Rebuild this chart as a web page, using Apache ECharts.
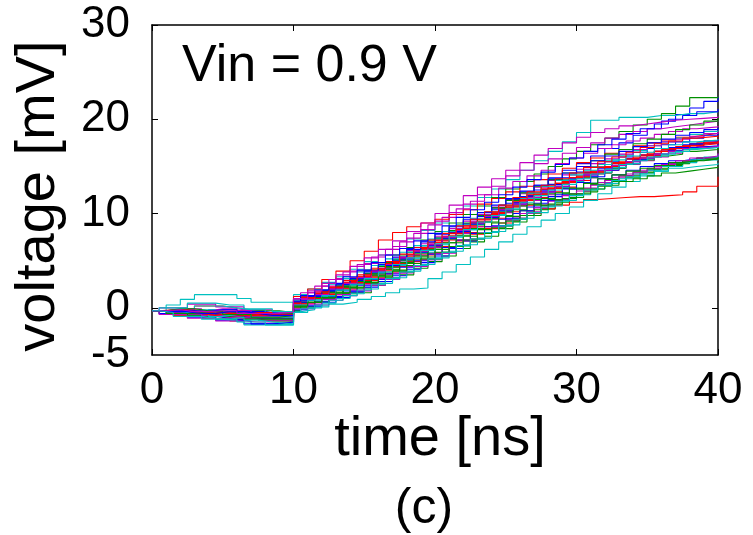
<!DOCTYPE html>
<html>
<head>
<meta charset="utf-8">
<script src="https://cdn.jsdelivr.net/npm/echarts@6/dist/echarts.min.js"></script>
<style>
html,body{margin:0;padding:0;background:#fff;}
#c{width:753px;height:535px;}
</style>
</head>
<body>
<div id="c"></div>
<script>
// time grids [ns]: even-numbered traces use timesA, odd-numbered traces use timesB
const timesA = [0,1,2,3,4,5,6,7,8,9,10,11,12,13,14,15,16,17,18,19,20,21,22,23,24,25,26,27,28,29,30,31,32,33,34,35,36,37,38,39,40];
const timesB = [0,0.5,1.5,2.5,3.5,4.5,5.5,6.5,7.5,8.5,10,10.5,11.5,12.5,13.5,14.5,15.5,16.5,17.5,18.5,19.5,20.5,21.5,22.5,23.5,24.5,25.5,26.5,27.5,28.5,29.5,30.5,31.5,32.5,33.5,34.5,35.5,36.5,37.5,38.5,40];

// voltage traces [mV], one value per time of the grid
const v01 = [-0.3,-0.3,-0.1,0.2,0.2,0.0,-0.3,-0.3,-0.6,-0.6, 0.8,1.2,1.2,2.0,2.5,2.9,3.6,4.4,4.9,5.6,6.5,7.2,8.0,8.6,9.5,10.2,10.9,11.7,12.3,12.8,13.5,14.2,14.6,15.2,15.7,16.0,16.6,17.0,17.3,17.7,18.0];
const v02 = [-0.3,-0.6,-0.6,-0.9,-0.9,-1.2,-1.2,-1.0,-1.3,-1.3, 0.0,0.0,0.6,1.1,1.6,1.6,2.4,3.0,3.5,4.2,4.9,5.5,6.3,7.0,7.6,8.4,9.1,9.8,10.5,11.2,11.7,12.3,12.9,13.4,13.8,14.3,14.7,15.1,15.5,15.9,16.2];
const v03 = [-0.3,-0.3,-0.5,-0.5,-0.2,-0.2,-0.5,-0.8,-0.8,-0.8, 0.9,1.3,1.9,2.3,2.9,3.6,4.2,5.0,5.6,6.3,7.2,8.0,8.9,9.7,10.6,11.5,12.3,13.0,13.8,14.6,15.3,16.1,16.9,17.5,18.3,19.0,19.8,20.5,21.2,21.9,22.4];
const v04 = [-0.3,0.0,0.0,0.4,0.4,0.1,0.1,-0.2,-0.2,-0.5, 0.7,1.0,1.5,2.1,2.1,3.0,3.6,4.3,5.0,5.6,6.4,7.3,7.9,8.6,9.4,10.1,10.8,11.4,12.0,12.7,13.3,13.8,14.3,14.8,15.2,15.6,16.0,16.4,16.8,17.1,17.3];
const v05 = [-0.3,0.3,0.9,1.4,1.4,1.4,1.0,0.6,0.6,0.6, 1.4,2.0,2.7,3.3,4.1,4.9,5.6,6.5,7.3,8.2,9.0,9.9,10.8,11.7,12.6,13.6,14.6,15.6,16.6,17.6,18.6,19.9,19.9,20.2,20.2,20.4,20.4,20.6,20.6,20.8,20.8];
const v06 = [-0.3,-0.5,-0.8,-0.8,-1.1,-1.1,-1.4,-1.1,-0.9,-0.9, 0.1,0.5,0.9,1.4,2.0,2.6,3.2,3.8,4.5,5.1,5.8,6.4,7.1,7.8,8.4,9.0,9.5,10.0,10.5,10.9,11.2,11.5,11.6,11.7,11.8,11.8,11.9,12.0,12.3,12.9,13.9];
const v07 = [-0.3,-0.2,-0.2,-0.5,-0.4,-0.4,-0.3,-0.3,-0.3,-0.5, 0.6,1.2,1.8,2.5,3.2,4.0,4.8,5.6,6.4,7.2,8.1,9.0,9.9,10.8,11.7,12.6,13.4,14.2,15.0,15.8,16.6,17.3,18.0,18.7,19.4,20.0,20.6,21.4,22.3,22.3,22.4];
const v08 = [-0.3,-0.6,-0.6,-1.0,-1.0,-1.3,-1.3,-1.7,-1.7,-1.5, -0.3,0.2,0.7,1.2,1.8,2.4,3.0,3.6,4.3,5.0,5.7,6.4,7.2,7.9,8.6,9.4,10.0,10.7,11.4,12.0,12.6,13.2,13.7,14.1,14.6,15.0,15.3,15.6,15.8,16.0,16.2];
const v09 = [-0.3,-0.4,-0.4,-0.3,-0.1,-0.1,-0.3,-0.5,-0.5,-0.4, 0.9,1.6,2.3,3.1,3.9,4.7,5.6,6.5,7.4,8.3,9.2,10.1,11.0,12.0,12.9,14.0,14.6,15.3,15.8,16.4,17.0,17.5,18.0,18.4,18.7,19.0,19.2,19.4,19.6,19.8,19.9];
const v10 = [-0.3,-0.5,-0.7,-0.9,-1.1,-1.3,-1.5,-1.8,-1.8,-1.8, -0.4,-0.2,0.1,0.4,0.6,0.9,1.2,1.6,2.0,2.1,3.1,3.8,4.6,5.4,6.2,7.0,7.8,8.6,9.3,10.0,10.7,11.4,12.1,12.8,13.4,14.0,14.5,15.0,15.4,15.7,16.0];
const v11 = [-0.3,-0.2,-0.2,-0.4,-0.4,-0.6,-0.6,-0.8,-0.8,-0.6, 1.2,2.0,3.0,3.9,5.0,6.0,7.2,8.0,8.6,9.0,9.4,9.9,10.4,11.0,11.6,12.3,12.9,13.6,14.2,14.8,15.4,15.9,16.4,16.8,17.2,17.5,17.8,18.1,18.3,18.5,18.6];
const v12 = [-0.3,-0.5,-0.5,-0.8,-0.6,-0.6,-0.9,-0.9,-0.7,-0.9, 0.3,0.8,1.2,1.8,2.4,3.0,3.6,4.3,5.0,5.8,6.6,7.3,8.1,8.8,9.5,10.2,10.8,11.5,12.1,12.7,13.3,13.8,14.3,14.8,15.3,15.7,16.1,16.3,16.6,16.8,17.0];
const v13 = [-0.3,-0.2,-0.3,-0.5,-0.7,-0.7,-0.4,-0.4,-0.6,-0.6, 0.6,1.1,1.7,2.3,3.0,3.7,4.4,5.1,5.9,6.6,7.4,8.2,8.9,9.7,10.4,11.1,11.8,12.5,13.1,13.8,14.4,14.9,15.5,16.0,16.5,16.9,17.3,17.6,18.0,18.3,18.6];
const v14 = [-0.3,-0.7,-0.7,-1.1,-1.1,-1.4,-1.4,-1.5,-1.5,-1.5, -0.5,-0.1,0.3,0.8,1.3,1.8,2.4,3.0,3.7,4.4,5.1,5.8,6.6,7.3,8.0,8.7,9.5,10.2,10.9,11.5,12.1,12.7,13.3,13.8,14.2,14.6,15.0,15.3,15.6,15.9,16.1];
const v15 = [-0.3,-0.1,-0.1,0.2,0.2,0.0,-0.2,-0.2,-0.6,-0.6, 0.4,0.9,1.3,1.9,2.5,3.1,3.8,4.5,5.2,5.9,6.7,7.5,8.3,9.1,9.9,10.7,11.4,12.2,12.9,13.6,14.3,15.0,15.6,16.2,16.7,17.2,17.6,18.0,18.4,18.7,19.0];
const v16 = [-0.3,-0.4,-0.6,-0.6,-0.4,-0.4,-0.8,-0.8,-1.1,-1.1, 0.3,0.9,1.5,2.1,2.7,3.3,4.0,4.7,5.4,6.1,6.9,7.6,8.4,9.1,9.9,10.6,11.2,11.9,12.6,13.2,13.8,14.4,14.9,15.4,15.8,16.2,16.6,16.9,17.2,17.5,17.7];
const v17 = [-0.3,-0.4,-0.4,-0.7,-0.7,-1.0,-1.0,-0.8,-0.8,-1.0, 0.2,0.6,1.0,1.5,2.1,2.7,3.4,4.0,4.7,5.4,6.2,6.9,7.6,8.3,9.0,9.7,10.3,10.9,11.5,12.1,12.6,13.1,13.6,14.0,14.4,14.7,15.0,15.3,15.6,15.8,15.9];
const v18 = [-0.3,-0.5,-0.5,-0.7,-0.7,-0.5,-0.5,-0.9,-0.9,-0.7, 0.4,1.0,1.4,2.0,2.6,3.2,3.9,4.6,5.3,6.0,6.7,7.5,8.2,9.0,9.7,10.5,11.2,11.9,12.5,13.1,13.7,14.3,14.8,15.3,15.8,16.2,16.6,17.0,17.3,17.5,17.7];
const v19 = [-0.3,-0.2,-0.2,-0.5,-0.5,-0.3,-0.3,-0.6,-0.6,-0.5, 0.7,1.3,1.9,2.5,3.2,3.8,4.6,5.3,6.1,6.8,7.6,8.4,9.2,9.9,10.7,11.4,12.1,12.8,13.5,14.1,14.7,15.3,15.8,16.3,16.8,17.2,17.6,17.9,18.2,18.5,18.7];
const v20 = [-0.3,-0.4,-0.4,-0.2,-0.2,-0.6,-0.6,-0.9,-0.9,-1.0, 0.2,0.8,1.2,1.9,2.4,3.1,3.7,4.5,5.1,5.9,6.6,7.4,8.1,8.9,9.6,10.3,11.0,11.6,12.3,12.8,13.4,13.9,14.4,14.9,15.3,15.8,16.1,16.5,16.8,17.0,17.2];
const v21 = [-0.3,-0.5,-0.5,-0.7,-0.5,-0.5,-0.8,-0.8,-1.0,-1.0, 0.5,1.1,1.6,2.2,2.8,3.4,4.1,4.8,5.6,6.3,7.1,7.9,8.7,9.4,10.1,10.8,11.5,12.1,12.7,13.4,14.0,14.5,15.0,15.5,16.0,16.4,16.8,17.1,17.4,17.6,17.8];
const v22 = [-0.3,-0.3,-0.6,-0.6,-0.9,-0.9,-1.2,-1.2,-1.4,-1.4, -0.3,0.1,0.6,1.0,1.5,2.1,2.6,3.2,3.8,4.5,5.2,5.9,6.6,7.3,8.0,8.7,9.4,10.1,10.8,11.4,12.0,12.5,13.0,13.5,14.0,14.4,14.8,15.2,15.6,15.9,16.1];
const v23 = [-0.3,-0.4,-0.6,-0.8,-1.0,-1.2,-1.4,-1.7,-1.7,-1.5, -0.2,0.2,0.6,1.1,1.7,2.2,2.8,3.4,4.1,4.8,5.5,6.3,7.1,7.9,8.7,9.5,10.3,11.1,11.8,12.6,13.3,13.9,14.6,15.2,15.7,16.2,16.6,17.0,17.4,17.7,17.9];
const v24 = [-0.3,-0.3,-0.1,-0.1,-0.4,-0.4,-0.5,-0.5,-0.7,-0.7, 0.9,1.6,2.3,3.0,3.8,4.6,5.4,6.2,7.0,7.9,8.8,9.6,10.5,11.3,12.0,12.7,13.4,14.0,14.6,15.3,15.9,16.4,16.9,17.3,17.7,18.0,18.4,18.7,19.0,19.2,19.3];
const v25 = [-0.3,-0.6,-0.8,-1.0,-1.2,-1.2,-1.5,-1.5,-1.8,-1.8, -0.5,0.0,0.5,1.0,1.5,2.0,2.6,3.2,3.9,4.6,5.3,6.0,6.7,7.4,8.1,8.8,9.5,10.1,10.8,11.4,12.0,12.6,13.2,13.7,14.2,14.6,15.0,15.4,15.7,16.0,16.3];
const v26 = [-0.3,-0.2,-0.2,-0.4,-0.4,-0.6,-0.6,-0.5,-0.5,-0.8, 0.5,1.0,1.5,2.1,2.7,3.3,3.9,4.6,5.3,6.0,6.7,7.5,8.3,9.0,9.8,10.5,11.3,12.0,12.6,13.2,13.8,14.3,14.9,15.3,15.8,16.2,16.6,16.9,17.2,17.4,17.5];
const v27 = [-0.3,-0.1,-0.1,-0.3,-0.3,-0.5,-0.7,-0.7,-0.6,-0.6, 0.6,1.1,1.7,2.3,3.0,3.6,4.4,5.1,5.9,6.6,7.4,8.2,9.0,9.8,10.6,11.4,12.2,12.9,13.6,14.3,15.0,15.6,16.3,16.8,17.4,17.9,18.4,18.9,19.4,19.8,20.2];
const v28 = [-0.3,-0.5,-0.6,-0.6,-0.8,-0.9,-0.9,-1.1,-1.1,-1.1, 0.3,0.8,1.3,1.9,2.5,3.1,3.8,4.5,5.2,5.9,6.6,7.4,8.1,8.9,9.6,10.3,11.0,11.7,12.3,12.9,13.5,14.1,14.6,15.1,15.5,15.9,16.3,16.7,17.0,17.2,17.4];
const v29 = [-0.3,-0.4,-0.7,-0.7,-0.9,-1.1,-1.1,-1.3,-1.3,-1.3, -0.1,0.4,0.9,1.4,1.9,2.5,3.1,3.7,4.4,5.1,5.8,6.5,7.2,7.9,8.6,9.3,10.0,10.6,11.3,11.9,12.4,13.0,13.5,14.0,14.4,14.8,15.2,15.6,15.9,16.1,16.4];
const v30 = [-0.3,0.0,0.0,0.5,0.5,0.3,0.3,-0.1,-0.1,-0.4, 0.8,1.3,1.9,2.5,3.1,3.8,4.5,5.2,5.9,6.6,7.3,8.1,8.8,9.5,10.2,10.9,11.6,12.2,12.9,13.5,14.1,14.6,15.2,15.7,16.1,16.5,16.9,17.3,17.6,17.8,17.9];
const v31 = [-0.3,-0.4,-0.4,-0.5,-0.7,-0.7,-0.9,-0.9,-0.9,-0.9, 0.4,1.0,1.5,2.1,2.7,3.3,4.0,4.7,5.4,6.2,6.9,7.7,8.5,9.2,10.0,10.7,11.4,12.0,12.7,13.3,13.9,14.4,15.0,15.4,15.9,16.2,16.6,16.9,17.2,17.5,17.7];
const v32 = [-0.3,-0.5,-0.5,-0.8,-0.6,-0.9,-0.9,-1.2,-1.2,-1.2, 0.1,0.6,1.1,1.6,2.2,2.8,3.4,4.1,4.8,5.5,6.2,6.9,7.7,8.4,9.1,9.8,10.4,11.0,11.6,12.2,12.7,13.2,13.7,14.1,14.5,14.8,15.1,15.4,15.6,15.8,16.0];
const v33 = [-0.3,-0.3,-0.3,-0.4,-0.2,-0.2,-0.6,-0.6,-0.8,-0.8, 0.6,1.2,1.8,2.5,3.1,3.9,4.6,5.4,6.2,7.0,7.8,8.6,9.4,10.1,10.9,11.6,12.4,13.0,13.7,14.3,15.0,15.6,16.1,16.6,17.1,17.5,17.9,18.3,18.6,18.9,19.1];
const v34 = [-0.3,-0.5,-0.4,-0.4,-0.8,-0.8,-1.0,-0.9,-0.9,-0.9, 0.3,0.9,1.4,2.0,2.6,3.2,3.9,4.6,5.3,6.0,6.7,7.5,8.2,9.0,9.7,10.4,11.0,11.7,12.3,12.9,13.5,14.1,14.6,15.1,15.5,15.9,16.3,16.6,16.9,17.1,17.3];
const v35 = [-0.3,-0.4,-0.6,-0.6,-0.9,-0.7,-0.7,-1.0,-1.0,-1.0, 0.3,0.8,1.3,1.9,2.5,3.1,3.8,4.6,5.3,6.1,6.8,7.6,8.3,9.1,9.8,10.5,11.2,11.9,12.5,13.1,13.7,14.2,14.7,15.2,15.6,16.0,16.3,16.6,16.9,17.0,17.1];
const v36 = [-0.3,-0.3,-0.6,-0.6,-0.8,-0.6,-0.6,-0.7,-0.7,-0.7, 0.5,1.1,1.7,2.2,2.9,3.5,4.2,4.9,5.7,6.4,7.2,7.9,8.7,9.4,10.2,10.9,11.7,12.3,13.0,13.7,14.3,14.9,15.5,16.0,16.5,17.0,17.4,17.7,18.0,18.2,18.3];
const v37 = [-0.3,-0.6,-0.6,-0.4,-0.4,-0.7,-0.7,-1.0,-1.0,-0.8, 0.2,0.6,1.1,1.6,2.2,2.7,3.3,3.9,4.5,5.2,5.9,6.5,7.2,7.9,8.5,9.2,9.8,10.4,11.0,11.6,12.1,12.6,13.0,13.4,13.7,14.0,14.3,14.5,14.7,14.9,15.0];
const v38 = [-0.3,-0.4,-0.4,-0.6,-0.6,-0.4,-0.4,-0.6,-0.8,-0.8, 0.7,1.3,1.9,2.6,3.3,4.0,4.8,5.6,6.3,7.1,7.9,8.7,9.6,10.4,11.2,12.0,12.8,13.6,14.4,15.2,15.9,16.6,17.3,17.9,18.5,19.0,19.5,20.0,20.4,20.8,21.1];
const v39 = [-0.3,-0.2,-0.4,-0.4,-0.3,-0.3,-0.6,-0.6,-0.6,-0.5, 1.0,1.8,2.6,3.5,4.4,5.3,6.2,7.1,8.1,9.0,10.0,10.9,11.9,12.8,13.7,14.6,15.4,16.2,16.9,17.5,18.1,18.6,19.0,19.3,19.5,19.7,19.9,20.0,20.1,20.2,20.3];
const v40 = [-0.3,-0.5,-0.9,-0.9,-1.2,-1.2,-1.0,-1.3,-1.5,-1.7, -0.5,-0.1,0.3,0.8,1.3,1.9,2.5,3.1,3.8,4.5,5.2,5.9,6.6,7.3,8.0,8.7,9.4,10.1,10.7,11.3,11.9,12.5,13.0,13.5,13.9,14.2,14.5,14.8,15.0,15.2,15.4];

const traces = [v01,v02,v03,v04,v05,v06,v07,v08,v09,v10,v11,v12,v13,v14,v15,v16,v17,v18,v19,v20,
                v21,v22,v23,v24,v25,v26,v27,v28,v29,v30,v31,v32,v33,v34,v35,v36,v37,v38,v39,v40];

const lineColors = ['#ff0000','#009000','#0000ff','#c000c0','#00c0c0'];
const xTicks = [0,10,20,30,40];
const yTickLabels = [-5,0,10,20,30];
const yTickMarks = [0,10,20,30];

const FONT = '"Liberation Sans", Arial, sans-serif';

const chart = echarts.init(document.getElementById('c'), null, {renderer:'canvas'});
const axisLine = {show:true, onZero:false, lineStyle:{color:'#000', width:1.5}};
const tick = {show:true, inside:true, length:6, lineStyle:{color:'#000'}};
chart.setOption({
  animation:false,
  backgroundColor:'#fff',
  grid:{left:152, right:35, top:25, bottom:180, outerBoundsMode:'none', containLabel:false},
  xAxis:[
    {type:'value', min:0, max:40, interval:10, position:'bottom',
     axisLine:axisLine, axisTick:tick,
     axisLabel:{show:true, margin:14, fontSize:44, fontFamily:FONT, color:'#000', customValues:xTicks},
     splitLine:{show:false}},
    {type:'value', min:0, max:40, interval:10, position:'top',
     axisLine:axisLine, axisTick:tick,
     axisLabel:{show:false}, splitLine:{show:false}}
  ],
  yAxis:[
    {type:'value', min:-5, max:30, position:'left',
     axisLine:axisLine,
     axisTick:Object.assign({}, tick, {customValues:yTickMarks}),
     axisLabel:{show:true, margin:22, fontSize:44, fontFamily:FONT, color:'#000', customValues:yTickLabels},
     splitLine:{show:false}},
    {type:'value', min:-5, max:30, position:'right',
     axisLine:axisLine,
     axisTick:Object.assign({}, tick, {customValues:yTickMarks}),
     axisLabel:{show:false}, splitLine:{show:false}}
  ],
  series: traces.map((tr, i) => {
    const t = (i % 2 === 0) ? timesA : timesB;
    return {
      type:'line', data: tr.map((v, j) => [t[j], v]), step:'end',
      showSymbol:false, symbol:'none', silent:true, xAxisIndex:0, yAxisIndex:0,
      lineStyle:{width:1.1, color:lineColors[i % 5]}, itemStyle:{color:lineColors[i % 5]}
    };
  }),
  graphic:[
    {type:'text', x:39, y:196, rotation:Math.PI/2,
     style:{text:'voltage [mV]', fontSize:56, fontFamily:FONT, fill:'#000', align:'center', verticalAlign:'middle'}},
    {type:'text', x:440, y:440,
     style:{text:'time [ns]', fontSize:56, fontFamily:FONT, fill:'#000', align:'center', verticalAlign:'middle'}},
    {type:'text', x:424, y:509,
     style:{text:'(c)', fontSize:50, fontFamily:FONT, fill:'#000', align:'center', verticalAlign:'middle'}},
    {type:'text', x:182, y:67, z:100,
     style:{text:'Vin = 0.9 V', fontSize:52, fontFamily:FONT, fill:'#000', align:'left', verticalAlign:'middle'}}
  ]
});
</script>
</body>
</html>
